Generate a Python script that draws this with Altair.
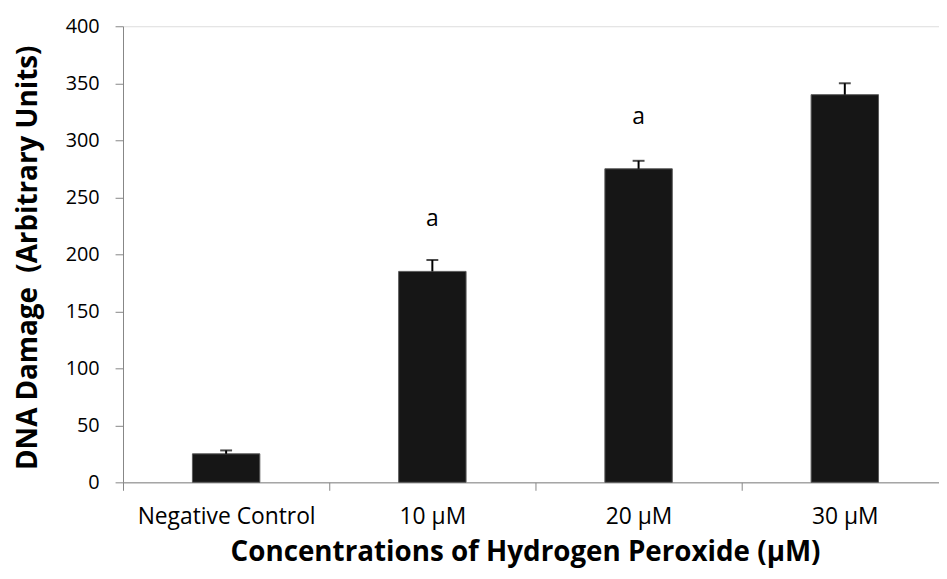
import altair as alt
import pandas as pd

categories = ["Negative Control", "10 µM", "20 µM", "30 µM"]
values = [25, 185, 275, 340]
errors = [3, 10, 7, 10]
sig_labels = ["", "a", "a", ""]
sig_positions = [0, 231, 320, 0]

df = pd.DataFrame({
    "cat": categories,
    "value": values,
    "upper": [v + e for v, e in zip(values, errors)],
    "sig": sig_labels,
    "sig_y": sig_positions,
})

FONT = "Open Sans"
AX = "#868686"

x_enc = alt.X(
    "cat:N",
    sort=categories,
    scale=alt.Scale(paddingInner=0, paddingOuter=0, range=[0, 832]),
    axis=alt.Axis(
        title="Concentrations of Hydrogen Peroxide (µM)",
        labelAngle=0,
        labelFont=FONT,
        labelFontSize=23,
        labelColor="#000000",
        labelPadding=16,
        tickBand="extent",
        tickSize=8,
        tickColor=AX,
        domainColor=AX,
        domainWidth=1,
        tickWidth=1,
        titleFont=FONT,
        titleFontSize=28,
        titleFontWeight="bold",
        titleColor="#000000",
        titleX=405.5,
        titleY=79,
        titleAlign="center",
        titleBaseline="alphabetic",
        grid=False,
    ),
)

y_scale = alt.Scale(domain=[0, 400], nice=False)
y_axis = alt.Axis(
    title="DNA Damage\u00a0 (Arbitrary Units)",
    values=[0, 50, 100, 150, 200, 250, 300, 350, 400],
    labelFont=FONT,
    labelFontSize=20,
    labelColor="#000000",
    labelPadding=16,
    tickSize=8,
    tickColor=AX,
    domainColor=AX,
    domainWidth=1,
    tickWidth=1,
    titleFont=FONT,
    titleFontSize=28,
    titleFontWeight="bold",
    titleColor="#000000",
    titleAngle=270,
    titleX=-87,
    titleY=233,
    titleAlign="center",
    titleBaseline="alphabetic",
    grid=False,
)

base = alt.Chart(df)

bars = base.mark_bar(width=68, color="#161616", stroke="#5a5a5a", strokeWidth=1).encode(
    x=x_enc,
    y=alt.Y("value:Q", scale=y_scale, axis=y_axis),
)

err = base.mark_rule(color="#000000", strokeWidth=2).encode(
    x=alt.X("cat:N", sort=categories),
    y=alt.Y("value:Q"),
    y2="upper:Q",
)

caps = base.mark_tick(color="#000000", size=12, thickness=2).encode(
    x=alt.X("cat:N", sort=categories),
    y=alt.Y("upper:Q"),
)

sig = base.transform_filter(alt.datum.sig != "").mark_text(
    font=FONT, fontSize=23, color="#000000", baseline="middle", align="center"
).encode(
    x=alt.X("cat:N", sort=categories),
    y=alt.Y("sig_y:Q"),
    text="sig:N",
)

chart = alt.layer(bars, err, caps, sig).properties(
    width=823,
    height=460,
    autosize=alt.AutoSizeParams(type="none"),
    padding={"left": 116, "top": 16, "right": 0, "bottom": 87},
).configure_view(stroke=None).configure(background="#ffffff")

chart.save("out.html", embed_options={"renderer": "svg", "actions": False})
